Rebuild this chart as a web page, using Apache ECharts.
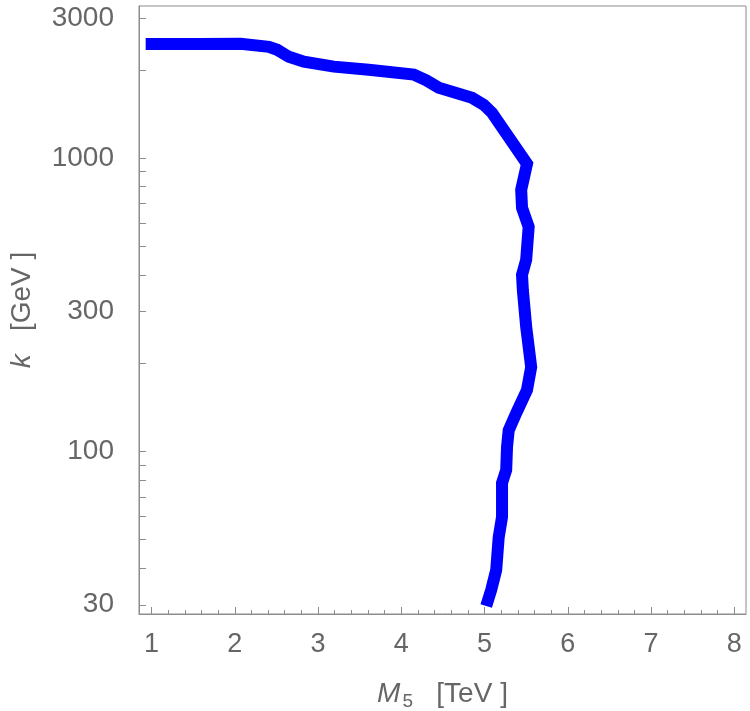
<!DOCTYPE html>
<html>
<head>
<meta charset="utf-8">
<script src="https://cdn.jsdelivr.net/npm/echarts@6/dist/echarts.min.js"></script>
<style>
html, body { margin: 0; padding: 0; background: #fff; }
#chart { width: 750px; height: 711px; }
</style>
</head>
<body>
<div id="chart"></div>
<script>
// curve: M5 in TeV, k in GeV
const M5 = [0.93, 1.57, 2.07, 2.41, 2.51, 2.65, 2.83, 3.19, 3.61, 4.15, 4.30, 4.45, 4.85, 4.99, 5.09,
	5.51, 5.44, 5.45, 5.53, 5.50, 5.45, 5.46, 5.50, 5.56, 5.51, 5.38, 5.29, 5.27, 5.26, 5.21,
	5.21, 5.17, 5.14, 5.08, 5.02];
const K = [2450, 2450, 2455, 2395, 2340, 2215, 2130, 2050, 2000, 1925, 1840, 1737, 1606, 1520, 1427,
	956, 779, 677, 583, 450, 400, 355, 266, 194, 162, 135, 118, 103.5, 86.4, 78,
	59.7, 51, 39.4, 33.7, 29.7];

const X_LABELS = [1, 2, 3, 4, 5, 6, 7, 8];
const Y_LABELS = [30, 100, 300, 1000, 3000];
const Y_TICKS = [30, 40, 50, 60, 70, 80, 90, 100, 200, 300, 400, 500, 600, 700, 800, 900, 1000, 2000, 3000];

const X_MIN = 0.85, X_MAX = 8.14;
const Y_MIN = 27.9, Y_MAX = 3300;

const xMinor = [];
for (let i = 5; i <= 40; i++) {
	if (i % 5 !== 0) xMinor.push(Math.round(i * 2) / 10);
}

const GRAY = "#666666";
const FRAME = "#8c8c8c";
const FONT = "Liberation Sans";

const chart = echarts.init(document.getElementById("chart"));

const curve = M5.map((m, i) => [m, K[i]]);

option = {
	animation: false,
	grid: {
		left: 139,
		right: 4,
		top: 6,
		bottom: 97,
		outerBoundsMode: "none",
		containLabel: false,
		show: true,
		borderColor: FRAME,
		borderWidth: 1
	},
	xAxis: [{
		type: "value",
		min: X_MIN,
		max: X_MAX,
		name: "{i|M}{s|5}   [TeV ]",
		nameLocation: "middle",
		nameGap: 64,
		nameTextStyle: {
			color: GRAY,
			fontSize: 28,
			fontFamily: FONT,
			rich: {
				i: { fontStyle: "italic", fontSize: 28, color: GRAY, fontFamily: FONT },
				s: { fontSize: 19, color: GRAY, fontFamily: FONT, padding: [14, 0, 0, 2] }
			}
		},
		splitLine: { show: false },
		axisLine: { lineStyle: { color: FRAME } },
		axisTick: {
			inside: true,
			length: 7,
			customValues: X_LABELS,
			lineStyle: { color: FRAME }
		},
		axisLabel: {
			customValues: X_LABELS,
			margin: 17,
			color: GRAY,
			fontSize: 27,
			fontFamily: FONT
		}
	}, {
		type: "value",
		min: X_MIN,
		max: X_MAX,
		position: "bottom",
		splitLine: { show: false },
		axisLine: { show: false },
		axisLabel: { show: false },
		axisTick: {
			inside: true,
			length: 4,
			customValues: xMinor,
			lineStyle: { color: FRAME }
		}
	}],
	yAxis: {
		type: "log",
		min: Y_MIN,
		max: Y_MAX,
		name: "{i|k}   [GeV ]",
		nameLocation: "middle",
		nameGap: 103,
		nameTextStyle: {
			color: GRAY,
			fontSize: 28,
			fontFamily: FONT,
			rich: {
				i: { fontStyle: "italic", fontSize: 28, color: GRAY, fontFamily: FONT }
			}
		},
		splitLine: { show: false },
		minorTick: { show: false },
		axisLine: { show: true, lineStyle: { color: FRAME } },
		axisTick: {
			inside: true,
			length: 7,
			customValues: Y_TICKS,
			lineStyle: { color: FRAME }
		},
		axisLabel: {
			customValues: Y_LABELS,
			margin: 25,
			color: GRAY,
			fontSize: 28,
			fontFamily: FONT,
			formatter: v => String(Math.round(v))
		}
	},
	series: [{
		type: "line",
		data: curve,
		showSymbol: false,
		silent: true,
		lineStyle: {
			color: "#0000ff",
			width: 12,
			cap: "butt",
			join: "miter"
		}
	}]
};

chart.setOption(option);
window.onresize = chart.resize;
</script>
</body>
</html>
